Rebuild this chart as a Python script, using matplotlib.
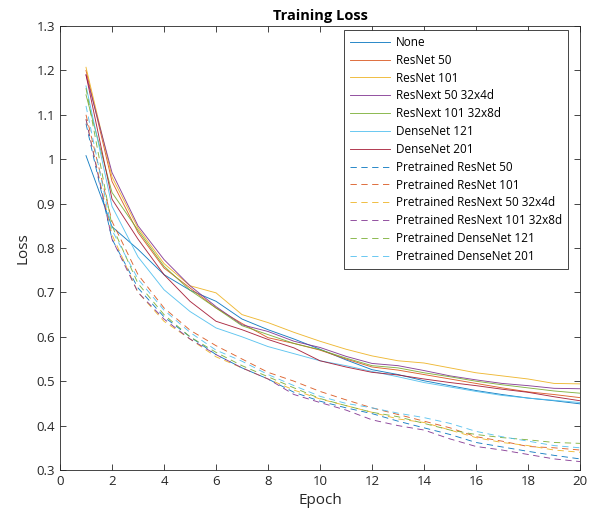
import numpy as np
import matplotlib.pyplot as plt
from matplotlib.ticker import FuncFormatter

plt.rcParams['font.family'] = ['Open Sans', 'DejaVu Sans']

epochs = np.arange(1, 21)

# solid lines (trained from scratch)
none_loss = [1.008, 0.848, 0.797, 0.74, 0.705, 0.68, 0.64, 0.616, 0.595, 0.572,
             0.548, 0.526, 0.515, 0.501, 0.49, 0.479, 0.47, 0.462, 0.456, 0.449]
resnet50 = [1.20, 0.95, 0.835, 0.755, 0.71, 0.665, 0.63, 0.598, 0.585, 0.57,
            0.55, 0.532, 0.525, 0.515, 0.505, 0.495, 0.485, 0.476, 0.47, 0.463]
resnet101 = [1.207, 0.96, 0.845, 0.765, 0.715, 0.699, 0.65, 0.632, 0.61, 0.59,
             0.572, 0.557, 0.546, 0.541, 0.53, 0.519, 0.512, 0.505, 0.495, 0.494]
resnext50 = [1.19, 0.97, 0.85, 0.774, 0.715, 0.668, 0.627, 0.612, 0.59, 0.576,
             0.556, 0.54, 0.535, 0.524, 0.512, 0.503, 0.495, 0.49, 0.484, 0.483]
resnext101 = [1.145, 0.925, 0.84, 0.759, 0.705, 0.665, 0.625, 0.605, 0.585, 0.571,
              0.552, 0.535, 0.53, 0.519, 0.51, 0.50, 0.492, 0.485, 0.478, 0.473]
densenet121 = [1.165, 0.894, 0.78, 0.706, 0.657, 0.62, 0.60, 0.578, 0.562, 0.546,
               0.535, 0.522, 0.51, 0.497, 0.487, 0.477, 0.468, 0.462, 0.457, 0.452]
densenet201 = [1.19, 0.91, 0.82, 0.74, 0.68, 0.635, 0.616, 0.594, 0.575, 0.546,
               0.532, 0.52, 0.514, 0.505, 0.497, 0.49, 0.482, 0.475, 0.465, 0.456]

# dashed lines (pretrained)
p_resnet50 = [1.08, 0.82, 0.71, 0.645, 0.60, 0.56, 0.53, 0.505, 0.475, 0.455,
              0.44, 0.427, 0.41, 0.395, 0.38, 0.362, 0.352, 0.342, 0.333, 0.325]
p_resnet101 = [1.10, 0.86, 0.74, 0.665, 0.615, 0.58, 0.55, 0.52, 0.50, 0.477,
               0.458, 0.44, 0.425, 0.41, 0.395, 0.375, 0.365, 0.353, 0.35, 0.345]
p_resnext50 = [1.09, 0.83, 0.70, 0.635, 0.595, 0.555, 0.53, 0.505, 0.48, 0.46,
               0.445, 0.43, 0.415, 0.407, 0.39, 0.373, 0.362, 0.355, 0.345, 0.34]
p_resnext101 = [1.09, 0.82, 0.70, 0.64, 0.595, 0.56, 0.53, 0.505, 0.47, 0.452,
                0.435, 0.413, 0.40, 0.39, 0.37, 0.353, 0.345, 0.335, 0.325, 0.319]
p_densenet121 = [1.16, 0.85, 0.72, 0.65, 0.60, 0.565, 0.535, 0.51, 0.485, 0.461,
                 0.445, 0.43, 0.42, 0.405, 0.39, 0.38, 0.373, 0.368, 0.362, 0.36]
p_densenet201 = [1.12, 0.84, 0.73, 0.66, 0.61, 0.57, 0.545, 0.515, 0.49, 0.466,
                 0.45, 0.44, 0.428, 0.418, 0.405, 0.387, 0.375, 0.365, 0.355, 0.35]

solid_labels = ["None", "ResNet 50", "ResNet 101", "ResNext 50 32x4d",
                "ResNext 101 32x8d", "DenseNet 121", "DenseNet 201"]
solid_data = [none_loss, resnet50, resnet101, resnext50, resnext101,
              densenet121, densenet201]
dashed_labels = ["Pretrained ResNet 50", "Pretrained ResNet 101",
                 "Pretrained ResNext 50 32x4d", "Pretrained ResNext 101 32x8d",
                 "Pretrained DenseNet 121", "Pretrained DenseNet 201"]
dashed_data = [p_resnet50, p_resnet101, p_resnext50, p_resnext101,
               p_densenet121, p_densenet201]

# MATLAB default color order
colors = ["#0072BD", "#D95319", "#EDB120", "#7E2F8E", "#77AC30", "#4DBEEE", "#A2142F"]

fig = plt.figure(figsize=(6.02, 5.17), dpi=100)
ax = fig.add_axes([60 / 602, 47 / 517, 520 / 602, 444 / 517])

for i, (lbl, vals) in enumerate(zip(solid_labels, solid_data)):
    ax.plot(epochs, vals, color=colors[i], lw=0.65, alpha=0.9, label=lbl)
for i, (lbl, vals) in enumerate(zip(dashed_labels, dashed_data)):
    ax.plot(epochs, vals, color=colors[i], lw=0.65, alpha=0.9, ls=(0, (7, 5)), label=lbl)

ax.set_xlim(0, 20)
ax.set_ylim(0.3, 1.3)
ax.set_xticks(np.arange(0, 21, 2))
ax.set_yticks(np.arange(0.3, 1.31, 0.1))
ax.yaxis.set_major_formatter(FuncFormatter(lambda v, p: f"{round(v, 1):g}"))

ax.tick_params(direction='in', top=True, right=True, length=4, width=0.6,
               colors='#262626', labelsize=9.5)
for s in ax.spines.values():
    s.set_color('#262626')
    s.set_linewidth(0.6)

ax.set_title("Training Loss", fontsize=10.5, fontweight='bold', pad=4)
ax.set_xlabel("Epoch", fontsize=11, color='#262626')
ax.set_ylabel("Loss", fontsize=11, color='#262626')

leg = ax.legend(loc='upper right', bbox_to_anchor=(508 / 520, 440 / 444),
                borderaxespad=0, fontsize=8.5, handlelength=3.4, labelspacing=0.41,
                fancybox=False, edgecolor='#262626', framealpha=1,
                handletextpad=0.5, borderpad=0.5)
leg.get_frame().set_linewidth(0.6)

fig.savefig("out.png", dpi=100)
